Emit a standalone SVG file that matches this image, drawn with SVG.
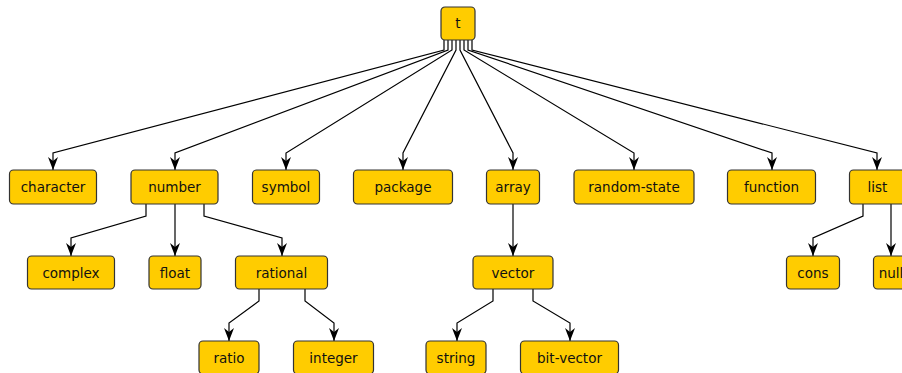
<svg xmlns="http://www.w3.org/2000/svg" width="902" height="373" viewBox="0 0 902 373">
<style>
.n rect{fill:#ffcc00;stroke:#333;stroke-width:1.2}
.n text{font-family:"DejaVu Sans",sans-serif;font-size:13.5px;fill:#111;text-anchor:middle}
.e path{fill:none;stroke:#000;stroke-width:1.2;marker-end:url(#ah)}
</style>
<defs>
<marker id="ah" viewBox="0 0 13 10" refX="13" refY="5" markerWidth="13" markerHeight="10" markerUnits="userSpaceOnUse" orient="auto">
<path d="M0,0 L13,5 L0,10 L4,5 z" fill="#000"/>
</marker>
</defs>
<g id="edges" class="e">
<path d="M444,40 V50 L53,153 V170"/>
<path d="M448,40 V50 L175,153 V170"/>
<path d="M452,40 V50 L286,153 V170"/>
<path d="M456,40 V50 L403,153 V170"/>
<path d="M460,40 V50 L513,153 V170"/>
<path d="M464,40 V50 L634,153 V170"/>
<path d="M468,40 V50 L772,153 V170"/>
<path d="M472,40 V50 L877,153 V170"/>
<path d="M146,204 V216 L71,238 V256"/>
<path d="M175,204 V256"/>
<path d="M204,204 V216 L282,238 V256"/>
<path d="M513,204 V256"/>
<path d="M863,204 V216 L813,238 V256"/>
<path d="M891,204 V256"/>
<path d="M259,289 V301 L229,323 V341"/>
<path d="M305,289 V301 L334,323 V341"/>
<path d="M493,289 V301 L457,323 V341"/>
<path d="M533,289 V301 L570,323 V341"/>
</g>
<g id="t" class="n"><rect x="441" y="7" width="34" height="33" rx="4"/><text x="458" y="28">t</text></g>
<g id="character" class="n"><rect x="9.5" y="170" width="87" height="34" rx="4"/><text x="53" y="192">character</text></g>
<g id="number" class="n"><rect x="131" y="170" width="87" height="34" rx="4"/><text x="174.5" y="192">number</text></g>
<g id="symbol" class="n"><rect x="252.5" y="170" width="67" height="34" rx="4"/><text x="286" y="192">symbol</text></g>
<g id="package" class="n"><rect x="353.5" y="170" width="99" height="34" rx="4"/><text x="403" y="192">package</text></g>
<g id="array" class="n"><rect x="486.5" y="170" width="53" height="34" rx="4"/><text x="513" y="192">array</text></g>
<g id="random-state" class="n"><rect x="574" y="170" width="120" height="34" rx="4"/><text x="634" y="192">random-state</text></g>
<g id="function" class="n"><rect x="727.5" y="170" width="88" height="34" rx="4"/><text x="771.5" y="192">function</text></g>
<g id="list" class="n"><rect x="849.5" y="170" width="56" height="34" rx="4"/><text x="877.5" y="192">list</text></g>
<g id="complex" class="n"><rect x="27.5" y="256" width="87" height="33" rx="4"/><text x="71" y="277.5">complex</text></g>
<g id="float" class="n"><rect x="149" y="256" width="52" height="33" rx="4"/><text x="175" y="277.5">float</text></g>
<g id="rational" class="n"><rect x="235.5" y="256" width="92" height="33" rx="4"/><text x="281.5" y="277.5">rational</text></g>
<g id="vector" class="n"><rect x="473" y="256" width="80" height="33" rx="4"/><text x="513" y="277.5">vector</text></g>
<g id="cons" class="n"><rect x="786.5" y="256" width="53" height="33" rx="4"/><text x="813" y="277.5">cons</text></g>
<g id="null" class="n"><rect x="873.5" y="256" width="50" height="33" rx="4"/><text x="891" y="277.5">null</text></g>
<g id="ratio" class="n"><rect x="199" y="341" width="60" height="33" rx="4"/><text x="229" y="362.5">ratio</text></g>
<g id="integer" class="n"><rect x="293.5" y="341" width="80" height="33" rx="4"/><text x="333.5" y="362.5">integer</text></g>
<g id="string" class="n"><rect x="426" y="341" width="60" height="33" rx="4"/><text x="456" y="362.5">string</text></g>
<g id="bit-vector" class="n"><rect x="520.5" y="341" width="98" height="33" rx="4"/><text x="569.5" y="362.5">bit-vector</text></g>
</svg>
